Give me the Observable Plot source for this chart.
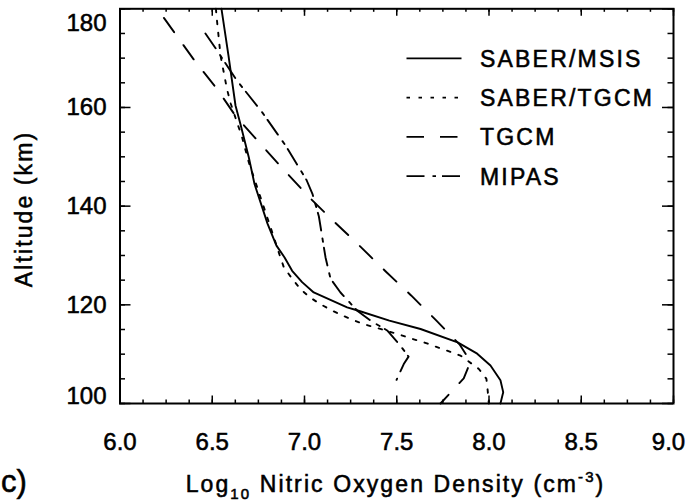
<!DOCTYPE html>
<html><head><meta charset="utf-8">
<script src="https://cdn.jsdelivr.net/npm/d3@7"></script>
<script src="https://cdn.jsdelivr.net/npm/@observablehq/plot@0.6"></script>
<style>
body{margin:0;background:#fff}
svg{font-family:"Liberation Sans",Arial,Helvetica,sans-serif}
svg text{stroke:#000;stroke-width:0.55px}
</style>
</head><body><div id="chart"></div>
<script>
// ---- data ----
const seriesNames = ["SABER/MSIS", "SABER/TGCM", "TGCM", "MIPAS"];

const msisAlt = [180, 170.5, 160.4, 156.6, 149.9, 144.5, 136.4, 132, 129.6, 126.9, 124.6, 122.5, 119.5, 118.8, 116.8, 115.1, 112.4, 110.1, 107.7, 104.7, 102.3, 100];
const msisVal = [6.55, 6.588, 6.626, 6.653, 6.698, 6.729, 6.80, 6.848, 6.892, 6.933, 6.987, 7.05, 7.231, 7.293, 7.46, 7.629, 7.83, 7.936, 8.008, 8.062, 8.077, 8.062];

const tgcmSabAlt = [180, 178.6, 170.5, 163.7, 160.8, 153.9, 148.9, 134.7, 130, 127.6, 125.3, 123.2, 121.7, 120.3, 119, 118, 117, 116.1, 115.3, 113.9, 113.1, 112.4, 110.7, 109.7, 107, 105, 102.6, 100];
const tgcmSabVal = [6.52, 6.523, 6.545, 6.58, 6.60, 6.662, 6.698, 6.825, 6.866, 6.888, 6.933, 6.978, 7.023, 7.078, 7.141, 7.195, 7.259, 7.32, 7.394, 7.52, 7.584, 7.647, 7.773, 7.846, 7.945, 7.986, 7.993, 7.999];

const tgcmAlt = [180, 178.2, 169.5, 163.7, 158.3, 152.6, 147.2, 141.9, 136.9, 131.8, 126.8, 121.9, 116.8, 112, 108.5, 105.1, 100];
const tgcmVal = [6.20, 6.237, 6.404, 6.527, 6.626, 6.762, 6.892, 7.023, 7.159, 7.303, 7.439, 7.578, 7.715, 7.84, 7.90, 7.863, 7.737];

const mipasAlt = [175, 172, 165.4, 159, 152.3, 145.3, 142.5, 137.9, 129.6, 125.3, 122.5, 118.8, 116.8, 114.8, 111.7, 109.5, 108, 104.8];
const mipasVal = [6.463, 6.518, 6.635, 6.771, 6.897, 7.011, 7.043, 7.078, 7.114, 7.141, 7.195, 7.286, 7.358, 7.448, 7.52, 7.564, 7.538, 7.499];

const xTicks = [6.0, 6.5, 7.0, 7.5, 8.0, 8.5, 9.0];
const xTickLabels = ["6.0", "6.5", "7.0", "7.5", "8.0", "8.5", "9.0"];
const yTicks = [100, 120, 140, 160, 180];
const yTickLabels = ["100", "120", "140", "160", "180"];
const xMinor = d3.range(6, 9.0001, 0.125);
const yMinor = d3.range(100, 180.001, 5);

const xTitle = ["Log", "10", " Nitric Oxygen Density (cm", "-3", ")"];
const yTitle = "Altitude (km)";
const panelLabel = "c)";

// ---- build table ----
const rows = [];
[[msisAlt, msisVal], [tgcmSabAlt, tgcmSabVal], [tgcmAlt, tgcmVal], [mipasAlt, mipasVal]].forEach(([a, v], k) => {
  a.forEach((alt, i) => rows.push({series: seriesNames[k], alt, val: v[i]}));
});

const styles = {
  "SABER/MSIS": {dash: null, off: 0},
  "SABER/TGCM": {dash: "3.5,8.5", off: 0},
  "TGCM": {dash: "17.5,16", off: 22},
  "MIPAS": {dash: "18,8,3.5,6", off: 0}
};

const W = 696, H = 501, mL = 119.5, mR = 23, mT = 8.3, mB = 98;
const plotW = W - mL - mR, plotH = H - mT - mB;
const fmtX = d => xTickLabels[xTicks.indexOf(d)];
const fmtY = d => yTickLabels[yTicks.indexOf(d)];

const lineMarks = seriesNames.map(s => Plot.line(rows.filter(r => r.series === s), {
  x: "val", y: "alt", stroke: "black", strokeWidth: 1.9,
  strokeDasharray: styles[s].dash, strokeDashoffset: styles[s].off
}));

const tickFont = 24;
const chart = Plot.plot({
  width: W, height: H,
  marginLeft: mL, marginRight: mR, marginTop: mT, marginBottom: mB,
  style: {fontSize: "23px", fontFamily: "'Liberation Sans', Arial, sans-serif", background: "white", overflow: "visible"},
  x: {domain: [6, 9], axis: null},
  y: {domain: [100, 180], axis: null},
  marks: [
    ...lineMarks,
    // inward ticks: bottom/top
    Plot.ruleX(xMinor, {x: d => d, insetTop: plotH - 3.5, strokeWidth: 1.5}),
    Plot.ruleX(xMinor, {x: d => d, insetBottom: plotH - 3.5, strokeWidth: 1.5}),
    Plot.ruleX(xTicks, {x: d => d, insetTop: plotH - 7.5, strokeWidth: 1.5}),
    Plot.ruleX(xTicks, {x: d => d, insetBottom: plotH - 7.5, strokeWidth: 1.5}),
    // inward ticks: left/right
    Plot.ruleY(yMinor, {y: d => d, insetRight: plotW - 5.5, strokeWidth: 1.5}),
    Plot.ruleY(yMinor, {y: d => d, insetLeft: plotW - 5.5, strokeWidth: 1.5}),
    Plot.ruleY(yTicks, {y: d => d, insetRight: plotW - 11, strokeWidth: 1.5}),
    Plot.ruleY(yTicks, {y: d => d, insetLeft: plotW - 11, strokeWidth: 1.5}),
    Plot.frame({stroke: "black", strokeWidth: 2}),
    // tick labels
    Plot.axisX(xTicks.slice(0, 6), {anchor: "bottom", tickSize: 0, tickPadding: 29.5, tickFormat: fmtX, label: null, fill: "black", fontSize: tickFont, letterSpacing: "1px"}),
    Plot.axisX(xTicks.slice(6), {anchor: "bottom", tickSize: 0, tickPadding: 29.5, dx: -5, tickFormat: fmtX, label: null, fill: "black", fontSize: tickFont, letterSpacing: "1px"}),
    Plot.axisY(yTicks.slice(1, 4), {anchor: "left", tickSize: 0, tickPadding: 13.5, tickFormat: fmtY, label: null, fill: "black", fontSize: tickFont}),
    Plot.axisY(yTicks.slice(0, 1), {anchor: "left", tickSize: 0, tickPadding: 13.5, dy: -7.5, tickFormat: fmtY, label: null, fill: "black", fontSize: tickFont}),
    Plot.axisY(yTicks.slice(4), {anchor: "left", tickSize: 0, tickPadding: 13.5, dy: 15, tickFormat: fmtY, label: null, fill: "black", fontSize: tickFont})
  ]
});

document.getElementById("chart").appendChild(chart);
const svg = d3.select(chart);

// x title with subscript/superscript
const xt = svg.append("text")
  .attr("x", 395.5).attr("y", 491.7)
  .attr("text-anchor", "middle")
  .attr("font-size", 23).attr("letter-spacing", "2.1px").attr("fill", "black");
xt.append("tspan").text(xTitle[0]);
xt.append("tspan").attr("font-size", 15).attr("dy", 7).text(xTitle[1]);
xt.append("tspan").attr("dy", -7).text(xTitle[2]);
xt.append("tspan").attr("font-size", 15).attr("dy", -10).text(xTitle[3]);
xt.append("tspan").attr("dy", 10).text(xTitle[4]);

// y title
svg.append("text")
  .attr("transform", "translate(31.7,209) rotate(-90)")
  .attr("text-anchor", "middle")
  .attr("font-size", 23).attr("letter-spacing", "2.1px").attr("fill", "black")
  .text(yTitle);

// panel label
svg.append("text")
  .attr("x", 1).attr("y", 492)
  .attr("text-anchor", "start")
  .attr("font-size", 31).attr("fill", "black")
  .text(panelLabel);

// legend
const lg = svg.append("g");
seriesNames.forEach((s, i) => {
  const cy = 58.3 + i * 39.3;
  lg.append("line")
    .attr("x1", 406.5).attr("x2", 461.5).attr("y1", cy).attr("y2", cy)
    .attr("stroke", "black").attr("stroke-width", 1.8)
    .attr("stroke-dasharray", styles[s].dash);
  lg.append("text")
    .attr("x", 480).attr("y", cy + 8.3)
    .attr("text-anchor", "start")
    .attr("font-size", 23).attr("letter-spacing", "2.2px").attr("fill", "black")
    .text(s);
});
</script>
</body></html>
